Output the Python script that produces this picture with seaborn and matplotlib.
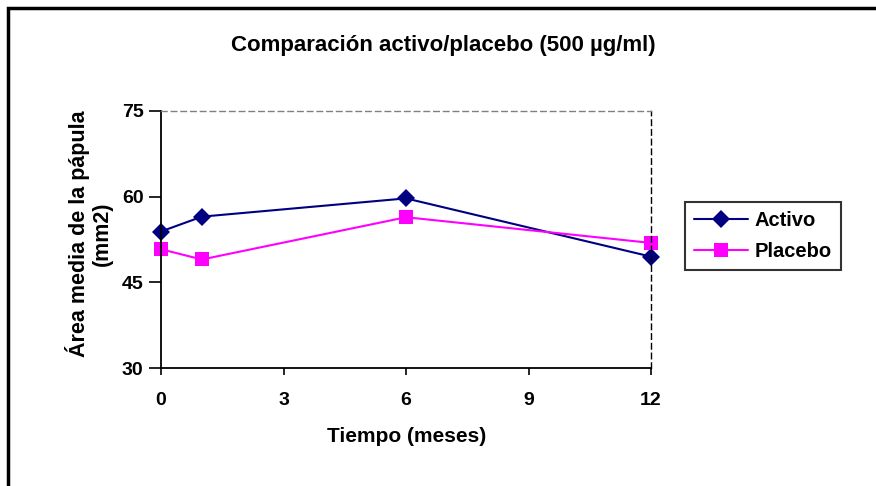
import matplotlib
matplotlib.use("Agg")
import matplotlib.pyplot as plt
from matplotlib.patches import Rectangle
import seaborn as sns
import pandas as pd

# Mean papule area over time for each treatment arm
meses = [0, 1, 6, 12]
activo = [53.9, 56.5, 59.7, 49.5]
placebo = [50.8, 49.0, 56.4, 51.9]
x_ticks = [0, 3, 6, 9, 12]
y_ticks = [30, 45, 60, 75]

df = pd.DataFrame({
    "Tiempo": meses * 2,
    "Area": activo + placebo,
    "Grupo": ["Activo"] * len(meses) + ["Placebo"] * len(placebo),
})

sns.set_theme(style="white")
plt.rcParams["font.family"] = ["Liberation Sans", "DejaVu Sans"]
plt.rcParams["font.weight"] = "bold"
plt.rcParams["text.color"] = "black"
plt.rcParams["axes.labelcolor"] = "black"

fig = plt.figure(figsize=(8.76, 4.86), dpi=100)
ax = fig.add_axes([161 / 876, 1 - 368 / 486, 490 / 876, 257 / 486])

palette = {"Activo": "#000080", "Placebo": "#FF00FF"}
markers = {"Activo": "D", "Placebo": "s"}
sns.lineplot(data=df, x="Tiempo", y="Area", hue="Grupo", style="Grupo",
             palette=palette, markers=markers, dashes=False, linewidth=1.5,
             markersize=10, markeredgewidth=0, ax=ax, clip_on=False)
for line in ax.lines:
    if line.get_marker() == "D":
        line.set_markersize(9.5)

ax.set_xlim(0, 12)
ax.set_ylim(30, 75)
ax.set_xticks(x_ticks)
ax.set_yticks(y_ticks)
ax.tick_params(axis="x", bottom=True, direction="out", length=5, width=1.2,
               labelsize=14, colors="black", pad=12)
ax.tick_params(axis="y", left=True, direction="out", length=8.5, width=1.2,
               labelsize=14, colors="black", pad=4)
for lbl in ax.get_xticklabels() + ax.get_yticklabels():
    lbl.set_fontweight("bold")

for side in ["left", "bottom"]:
    ax.spines[side].set_color("black")
    ax.spines[side].set_linewidth(1.3)
ax.spines["top"].set_color("#808080")
ax.spines["top"].set_linestyle((0, (4, 3)))
ax.spines["top"].set_linewidth(1.0)
ax.spines["right"].set_color("black")
ax.spines["right"].set_linestyle((0, (4, 3)))
ax.spines["right"].set_linewidth(1.0)

ax.set_xlabel("Tiempo (meses)", fontsize=15, fontweight="bold", color="black")
ax.xaxis.set_label_coords(407 / 876, 1 - 437 / 486, transform=fig.transFigure)
ax.xaxis.label.set_va("center")
ax.set_ylabel("Área media de la pápula\n(mm2)", fontsize=15.5,
              fontweight="bold", linespacing=1.15, color="black")
ax.yaxis.set_label_coords(89 / 876, 1 - 234 / 486, transform=fig.transFigure)
ax.yaxis.label.set_va("center")

fig.text(443 / 876, 1 - 46 / 486, "Comparación activo/placebo (500 µg/ml)",
         ha="center", va="center", fontsize=16, fontweight="bold",
         color="black")

leg = ax.legend(loc="upper left", bbox_to_anchor=(685 / 876, 1 - 202 / 486),
                bbox_transform=fig.transFigure, frameon=True, fancybox=False,
                prop={"size": 14.5, "weight": "bold"}, handlelength=2.7,
                borderpad=0.45, labelspacing=0.6, handletextpad=0.3,
                borderaxespad=0, labelcolor="black")
leg.get_frame().set_edgecolor("black")
leg.get_frame().set_linewidth(1.5)
leg.set_title(None)

# Outer chart frame (left and top edges visible)
fig.patches.append(Rectangle((8 / 876, -0.1), 1.2, 1 - 8 / 486 + 0.1,
                             transform=fig.transFigure, fill=False,
                             edgecolor="black", linewidth=2.5))

fig.savefig("out.png", dpi=100)
